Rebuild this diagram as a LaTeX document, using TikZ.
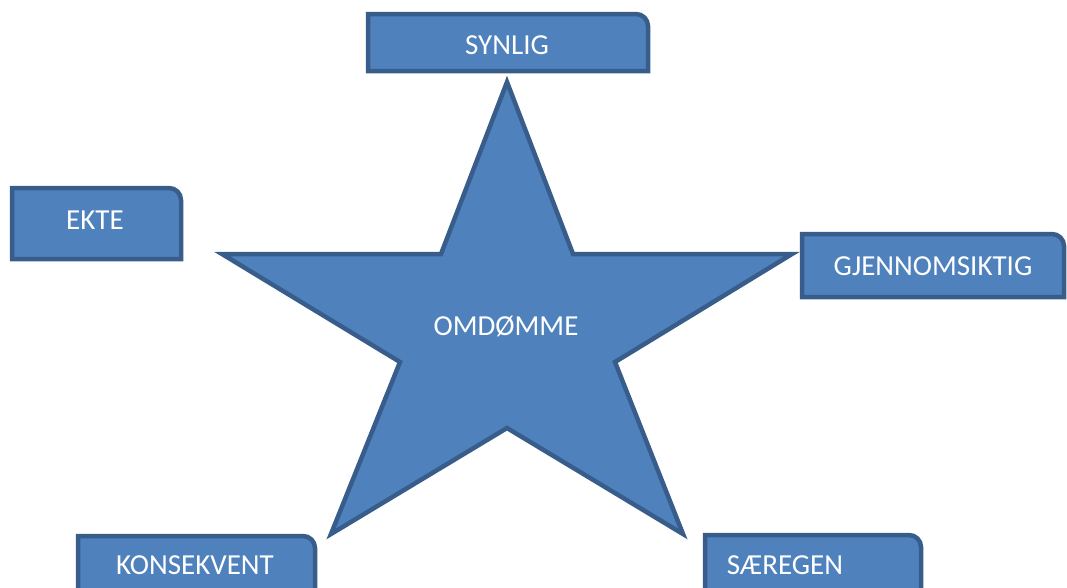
\documentclass[tikz,border=0pt]{standalone}
\usepackage{fontspec}
\setmainfont{Carlito}
\definecolor{boxfill}{HTML}{4F81BD}
\definecolor{boxline}{HTML}{385D8A}
\tikzset{
  lbl/.style={text=white, font=\fontsize{29}{34}\selectfont, anchor=base, inner sep=0pt},
  shapeline/.style={draw=boxline, fill=boxfill, line width=4.5pt},
}
% name, left, top, right, bottom (pixels, y downwards)
\newcommand\tagbox[5]{%
  \coordinate (#1-sw) at (#2,-#5);
  \coordinate (#1-nw) at (#2,-#3);
  \coordinate (#1-ne) at (#4,-#3);
  \coordinate (#1-se) at (#4,-#5);
  \path[shapeline] (#1-sw) -- (#1-nw) -- ([xshift=-12pt]#1-ne)
     arc[start angle=90,end angle=0,radius=12] -- (#1-se) -- cycle;
}
\begin{document}
\begin{tikzpicture}[x=1pt,y=1pt]
\useasboundingbox (0,0) rectangle (1067,-587);
\clip (0,0) rectangle (1067,-587);
% boxes
\tagbox{synlig}{368}{14}{648}{71}
\tagbox{ekte}{12}{188}{181}{259}
\tagbox{gjennom}{802}{234}{1064}{297}
\tagbox{konsek}{78}{536}{315}{600}
\tagbox{saeregen}{705}{535}{921}{600}
% star
\coordinate (top) at (507,-82);
\coordinate (iur) at (573,-254);
\coordinate (rt) at (792,-254);
\coordinate (ir) at (615,-362);
\coordinate (br) at (683,-534);
\coordinate (ib) at (507,-428);
\coordinate (bl) at (331,-534);
\coordinate (il) at (400,-362);
\coordinate (lt) at (222,-254);
\coordinate (iul) at (441,-254);
\path[shapeline, line join=miter] (top) -- (iur) -- (rt) -- (ir) -- (br) -- (ib)
  -- (bl) -- (il) -- (lt) -- (iul) -- cycle;
% labels
\node[lbl] (synlig) at (507,-54) {SYNLIG};
\node[lbl] (ekte) at (95,-229) {EKTE};
\node[lbl] (gjennom) at (933,-275) {GJENNOMSIKTIG};
\node[lbl] (konsek) at (195,-574) {KONSEKVENT};
\node[lbl] (saeregen) at (785,-574) {SÆREGEN};
\node[lbl] (omdomme) at (506,-335) {OMDØMME};
\end{tikzpicture}
\end{document}
